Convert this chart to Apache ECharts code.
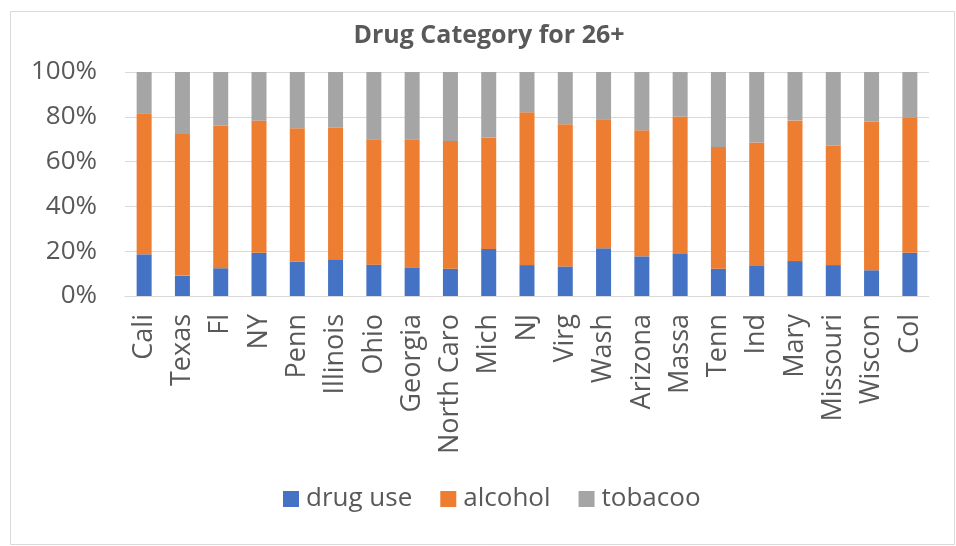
<!DOCTYPE html>
<html>
<head>
<meta charset="utf-8">
<script src="https://cdn.jsdelivr.net/npm/echarts@6/dist/echarts.min.js"></script>
<style>
html,body{margin:0;padding:0;background:#fff;}
#c{width:956px;height:546px;}
</style>
</head>
<body>
<div id="c"></div>
<script>
const categories = ["Cali","Texas","Fl","NY","Penn","Illinois","Ohio","Georgia","North Caro","Mich","NJ","Virg","Wash","Arizona","Massa","Tenn","Ind","Mary","Missouri","Wiscon","Col"];
const drugUse = [18.6, 9.1, 12.4, 19.3, 15.3, 16.4, 14.0, 12.8, 12.2, 21.0, 13.8, 13.2, 21.3, 17.7, 18.8, 12.2, 13.4, 15.6, 13.8, 11.5, 19.3];
const alcohol = [63.0, 63.2, 63.6, 59.0, 59.6, 58.7, 56.0, 57.2, 57.0, 49.8, 68.2, 63.5, 57.3, 56.3, 61.3, 54.3, 55.1, 62.8, 53.3, 66.3, 60.5];
const tobacco = [18.4, 27.7, 24.0, 21.7, 25.1, 24.9, 30.0, 30.0, 30.8, 29.2, 18.0, 23.3, 21.4, 26.0, 19.9, 33.5, 31.5, 21.6, 32.9, 22.2, 20.2];
const yTicks = { min: 0, max: 100, interval: 20 };
const titleText = "Drug Category for 26+";

const FONT = "Open Sans";
const TXT = "#595959";
const chart = echarts.init(document.getElementById('c'), null, { renderer: 'canvas' });
const bar = (name, data, color) => ({
  name, type: 'bar', stack: 'total', data, barWidth: 15,
  itemStyle: { color }, emphasis: { disabled: true }
});
chart.setOption({
  animation: false,
  backgroundColor: '#fff',
  graphic: [{
    type: 'rect', shape: { x: 10.5, y: 11.5, width: 944, height: 533 },
    style: { fill: 'none', stroke: '#d9d9d9', lineWidth: 1 }, silent: true
  }],
  title: {
    text: titleText, left: 484, top: 18, textAlign: 'center',
    textStyle: { fontFamily: FONT, fontWeight: 'bold', fontSize: 25, color: TXT }
  },
  legend: {
    left: 278, top: 481, itemWidth: 16, itemHeight: 16, itemGap: 28,
    icon: 'rect',
    textStyle: { fontFamily: FONT, fontSize: 26, color: TXT, padding: [0, 0, 0, 2] },
    data: ['drug use', 'alcohol', 'tobacoo']
  },
  grid: { left: 125, right: 27, top: 72, bottom: 250 },
  xAxis: {
    type: 'category', data: categories,
    axisLine: { lineStyle: { color: '#d9d9d9' } },
    axisTick: { show: false },
    axisLabel: { rotate: 90, margin: 18, interval: 0, fontFamily: FONT, fontSize: 27, color: TXT }
  },
  yAxis: {
    type: 'value', min: yTicks.min, max: yTicks.max, interval: yTicks.interval,
    axisLine: { show: false }, axisTick: { show: false },
    splitLine: { lineStyle: { color: '#d9d9d9' } },
    axisLabel: { formatter: '{value}%', margin: 28, fontFamily: FONT, fontSize: 26, color: TXT }
  },
  series: [
    bar('drug use', drugUse, '#4472C4'),
    bar('alcohol', alcohol, '#ED7D31'),
    bar('tobacoo', tobacco, '#A5A5A5')
  ]
});
</script>
</body>
</html>
